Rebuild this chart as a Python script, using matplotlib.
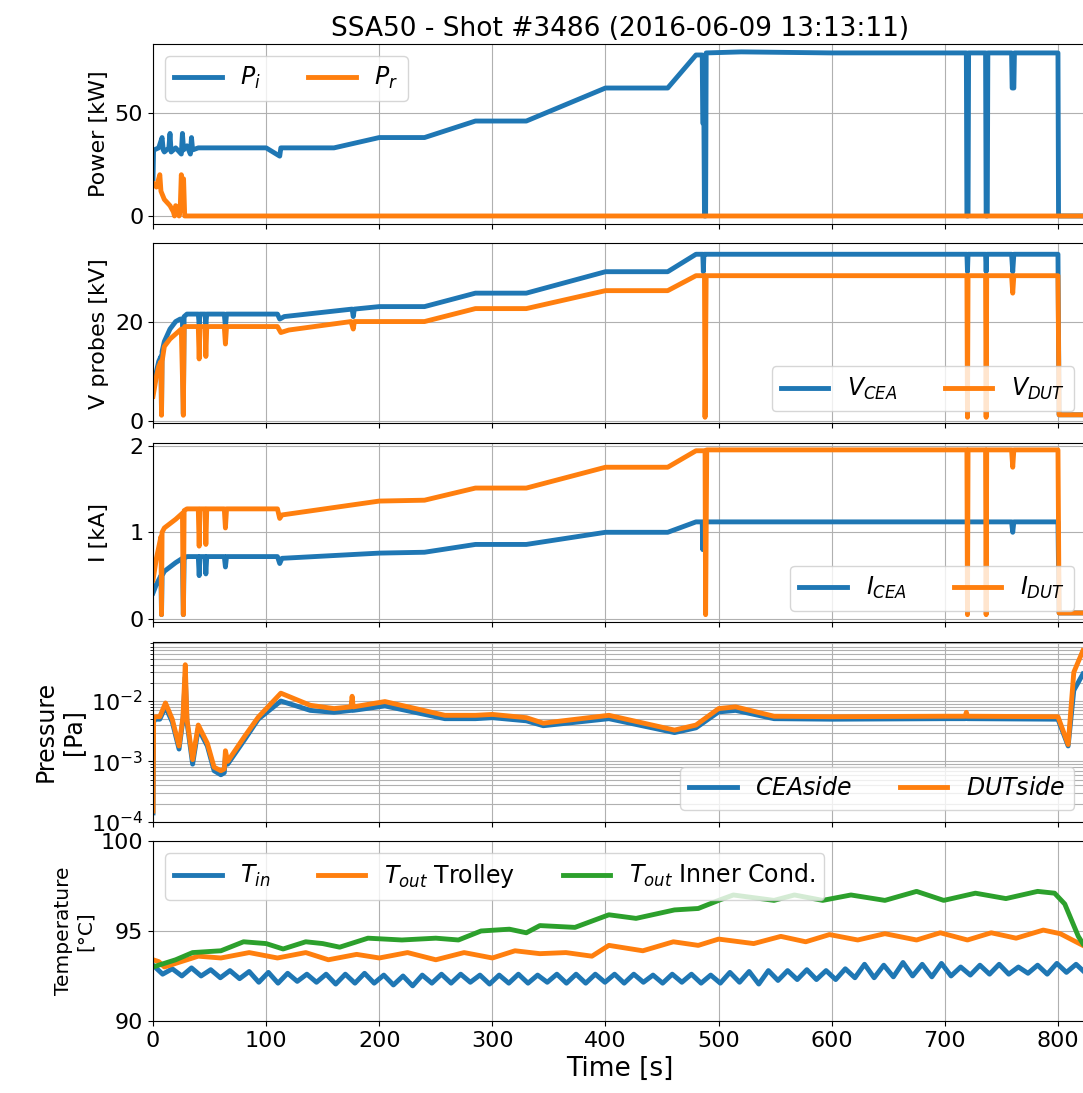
import numpy as np
import matplotlib
matplotlib.use("Agg")
import matplotlib.pyplot as plt

# --- power [kW]
p_t = [0, 0.5, 1, 5, 8, 9, 10, 14, 15, 16, 20, 25, 26, 27, 30, 33, 34, 35, 40, 60, 100,
       112, 113, 114, 160, 200, 240, 285, 330, 400, 455, 480, 485.5, 486, 487, 487.5, 488.5,
       489, 520, 600, 719, 719.5, 720.5, 721, 736, 736.5, 737.5, 738, 759, 759.5, 761,
       761.5, 800, 800.5, 825]
p_inc = [18, 32, 32, 33, 38, 32, 31, 33, 40, 31, 33, 30, 40, 32, 34, 30, 38, 32, 33, 33, 33,
         29, 33, 33, 33, 38, 38, 46, 46, 62, 62, 78, 78, 45, 45, 0, 0,
         79, 79.5, 79, 79, 0, 0, 79, 79, 0, 0, 79, 79, 62, 62,
         79, 79, 0, 0]
pr_t = [0, 3, 6, 7, 10, 15, 18, 19, 20, 22, 23, 24, 25, 25.5, 27, 28, 29, 825]
p_ref = [16, 14, 20, 12, 8, 5, 2, 0, 5, 4, 0, 3, 20, 18, 18, 0, 0, 0]

# --- probe voltages [kV]
v_t = [0, 3, 5, 7, 7.5, 8, 10, 15, 20, 24, 26, 26.8, 27.5, 30, 40, 40.8, 41.5, 46, 46.7,
       47.5, 63, 64, 65, 110, 112, 116, 176, 177, 178, 200, 240, 285, 330, 400, 455, 480,
       486, 486.5, 487, 489, 719.5, 720, 720.5, 736, 736.5, 737, 759, 760, 761, 800, 801, 825]
v_cea = [7, 10, 12, 13, 1.5, 14, 16, 18.5, 20, 20.5, 20.5, 1.5, 21, 21.5, 21.5, 19.5, 21.5,
         21.5, 19.5, 21.5, 21.5, 19, 21.5, 21.5, 20.5, 21, 22.5, 21, 22.5, 23, 23, 25.7,
         25.7, 30, 30, 33.5, 33.5, 30, 33.5, 33.5, 33.5, 30, 33.5, 33.5, 30, 33.5, 33.5, 30,
         33.5, 33.5, 1.3, 1.3]
vd_t = [0, 3, 5, 7, 7.5, 8, 10, 15, 20, 25, 26.8, 27.5, 28, 30, 40, 40.8, 41.5, 46, 46.7,
        47.5, 63, 64, 65, 110, 113, 120, 175, 177, 178, 200, 240, 285, 330, 400, 455, 480,
        487.5, 488, 489, 719.5, 720, 720.5, 736, 736.5, 737, 759, 760, 761, 800, 801, 825]
v_dut = [5, 9, 11, 12, 1.2, 12, 15, 16.5, 17.5, 18.5, 1.2, 18.5, 19, 19, 19, 12.5, 19, 19,
         13, 19, 19, 15.5, 19, 19, 17.8, 18.3, 20, 18.5, 20, 20, 20, 22.6, 22.6, 26.2, 26.2,
         29.2, 29.2, 0.8, 29.2, 29.2, 0.8, 29.2, 29.2, 0.8, 29.2, 29.2, 25.7, 29.2, 29.2,
         1.3, 1.3]

# --- currents [kA]
i_t = [0, 3, 7, 7.5, 8, 10, 15, 20, 26, 26.8, 27.5, 30, 40, 40.8, 41.5, 46, 46.7, 47.5, 63,
       64, 65, 110, 112, 114, 200, 240, 285, 330, 400, 455, 480, 485.5, 486, 487, 759, 760,
       761, 800, 801, 825]
i_cea = [0.3, 0.4, 0.5, 0.05, 0.5, 0.55, 0.6, 0.65, 0.7, 0.05, 0.7, 0.72, 0.72, 0.5, 0.72,
         0.72, 0.52, 0.72, 0.72, 0.6, 0.72, 0.72, 0.64, 0.7, 0.76, 0.77, 0.86, 0.86, 1.0, 1.0,
         1.12, 1.12, 0.8, 1.12, 1.12, 1.0, 1.12, 1.12, 0.07, 0.07]
id_t = [0, 3, 7, 7.5, 8, 10, 15, 20, 26, 26.8, 27.5, 30, 40, 40.8, 41.5, 46, 46.7, 47.5, 63,
        64, 65, 110, 112, 114, 200, 240, 285, 330, 400, 455, 480, 488, 488.5, 489.5, 719.5,
        720, 720.5, 736, 736.5, 737, 759, 760, 761, 800, 801, 825]
i_dut = [0.45, 0.7, 0.95, 0.05, 1.0, 1.05, 1.1, 1.15, 1.22, 0.05, 1.25, 1.27, 1.27, 0.84,
         1.27, 1.27, 0.86, 1.27, 1.27, 1.05, 1.27, 1.27, 1.16, 1.2, 1.36, 1.37, 1.51, 1.51,
         1.75, 1.75, 1.94, 1.94, 0.05, 1.95, 1.95, 0.05, 1.95, 1.95, 0.05, 1.95, 1.95, 1.75,
         1.95, 1.95, 0.07, 0.07]

# --- pressure [Pa]
pr_time = [0, 0.5, 2, 6, 11, 17, 23, 26.5, 28.5, 30, 35, 40, 48, 54, 60, 63, 64, 66, 81, 93,
           113, 139, 160, 175, 176, 177, 205, 258, 285, 300, 330, 345, 403, 461, 480, 500,
           515, 549, 600, 700, 718, 719, 720, 800, 809, 814, 822]
pres_dut = [1.5e-4, 5e-3, 5.5e-3, 5.5e-3, 9.3e-3, 5e-3, 1.8e-3, 5.5e-3, 4e-2, 5e-3, 1.07e-3,
            4e-3, 2e-3, 8e-4, 7e-4, 7.5e-4, 1.5e-3, 1e-3, 2.6e-3, 5.4e-3, 1.35e-2, 8.5e-3,
            7.5e-3, 8e-3, 1.2e-2, 8e-3, 9.8e-3, 5.8e-3, 5.8e-3, 6e-3, 5.3e-3, 4.3e-3, 5.8e-3,
            3.3e-3, 4e-3, 7.5e-3, 8e-3, 5.6e-3, 5.5e-3, 5.6e-3, 5.6e-3, 6.5e-3, 5.6e-3,
            5.5e-3, 1.9e-3, 3e-2, 6.8e-2]
pres_cea = [1.4e-4, 4.5e-3, 5e-3, 5e-3, 8e-3, 4.5e-3, 1.6e-3, 5e-3, 2.5e-2, 4.5e-3, 9e-4,
            3.5e-3, 1.8e-3, 7e-4, 6e-4, 6.5e-4, 1.2e-3, 9e-4, 2.3e-3, 5e-3, 1e-2, 7e-3,
            6.5e-3, 7e-3, 1e-2, 7e-3, 8.3e-3, 5.1e-3, 5.1e-3, 5.3e-3, 4.7e-3, 3.9e-3, 5.1e-3,
            3e-3, 3.6e-3, 6.6e-3, 7e-3, 5.1e-3, 5e-3, 5.1e-3, 5.1e-3, 6e-3, 5.1e-3,
            5e-3, 1.8e-3, 1.5e-2, 2.8e-2]

# --- temperatures [degC], inlet read every 8.5 s (peaks / troughs)
tin_t = np.arange(0, 817, 8.5).tolist() + [822]
t_in = [93.1, 92.6, 92.9, 92.5, 92.95, 92.5, 92.85, 92.4, 92.8, 92.35, 92.75, 92.15,
        92.7, 92.1, 92.65, 92.2, 92.6, 92.15, 92.6, 92.05, 92.6, 92.1, 92.65, 92.1,
        92.55, 92.0, 92.5, 91.95, 92.55, 92.1, 92.6, 92.1, 92.6, 92.15, 92.55, 92.05,
        92.55, 92.1, 92.6, 92.1, 92.55, 92.15, 92.6, 92.1, 92.6, 92.1, 92.6, 92.15,
        92.6, 92.1, 92.6, 92.15, 92.55, 92.1, 92.6, 92.15, 92.6, 92.1, 92.55, 92.1,
        92.7, 92.15, 92.75, 92.05, 92.8, 92.25, 92.8, 92.3, 92.85, 92.3, 92.8, 92.3,
        92.9, 92.4, 93.15, 92.4, 93.1, 92.45, 93.25, 92.5, 93.15, 92.45, 93.2, 92.5,
        93.0, 92.55, 93.1, 92.6, 93.15, 92.6, 93.0, 92.65, 93.1, 92.6, 93.2, 92.7,
        93.15, 92.8]
tt_t = [0, 5, 10, 20, 40, 60, 85, 110, 135, 155, 180, 200, 225, 250, 275, 300, 320, 342,
        365, 388, 403, 433, 460, 482, 500, 531, 555, 577, 598, 623, 647, 675, 696, 720, 741,
        763, 787, 802, 822]
t_trolley = [93.4, 93.3, 93.0, 93.2, 93.6, 93.5, 93.8, 93.5, 93.8, 93.4, 93.7, 93.5, 93.8,
             93.4, 93.8, 93.5, 93.9, 93.74, 93.8, 93.6, 94.2, 93.9, 94.4, 94.2, 94.55, 94.3,
             94.7, 94.4, 94.8, 94.5, 94.85, 94.5, 94.9, 94.5, 94.9, 94.6, 95.05, 94.85, 94.2]
tc_t = [0, 20, 35, 60, 80, 100, 115, 135, 150, 165, 190, 220, 250, 270, 290, 315, 330, 342,
        373, 403, 427, 461, 482, 500, 513, 549, 567, 592, 617, 647, 675, 699, 727, 754, 782,
        797, 806, 818, 822]
t_inner = [93.0, 93.4, 93.8, 93.9, 94.4, 94.3, 94.0, 94.4, 94.3, 94.1, 94.6, 94.5, 94.6,
           94.5, 95.0, 95.1, 94.9, 95.3, 95.2, 95.9, 95.7, 96.17, 96.25, 96.7, 97.0, 96.7,
           97.0, 96.7, 97.0, 96.7, 97.2, 96.7, 97.1, 96.8, 97.2, 97.1, 96.5, 94.7, 94.3]

plt.rcParams['font.size'] = 16
plt.rcParams['xtick.labelsize'] = 16
plt.rcParams['ytick.labelsize'] = 16
plt.rcParams['legend.fontsize'] = 17

fig, axs = plt.subplots(5, 1, sharex=True, figsize=(10.83, 10.93), dpi=100)
fig.subplots_adjust(left=0.1413, right=1.003, top=0.9597, bottom=0.0659, hspace=0.107)
lw = 3.5

ax = axs[0]
ax.plot(p_t, p_inc, lw=lw, label='$P_i$')
ax.plot(pr_t, p_ref, lw=lw, label='$P_r$')
ax.set_ylim(-3.9, 83.3)
ax.set_yticks([0, 50])
ax.set_ylabel('Power [kW]')
ax.legend(loc='upper left', ncol=2)
ax.set_title('SSA50 - Shot #3486 (2016-06-09 13:13:11)', fontsize=19)

ax = axs[1]
ax.plot(v_t, v_cea, lw=lw, label='$V_{CEA}$')
ax.plot(vd_t, v_dut, lw=lw, label='$V_{DUT}$')
ax.set_ylim(-0.4, 35.7)
ax.set_yticks([0, 20])
ax.set_ylabel('V probes [kV]')
ax.legend(loc='lower right', ncol=2)

ax = axs[2]
ax.plot(i_t, i_cea, lw=lw, label='$I_{CEA}$')
ax.plot(id_t, i_dut, lw=lw, label='$I_{DUT}$')
ax.set_ylim(-0.04, 2.035)
ax.set_yticks([0, 1, 2])
ax.set_ylabel('I [kA]')
ax.legend(loc='lower right', ncol=2)

ax = axs[3]
ax.plot(pr_time, pres_cea, lw=lw, label='$CEAside$')
ax.plot(pr_time, pres_dut, lw=lw, label='$DUTside$')
ax.set_yscale('log')
ax.set_ylim(1e-4, 0.096)
ax.set_ylabel('Pressure\n[Pa]', fontsize=17)
ax.legend(loc='lower right', ncol=2)

ax = axs[4]
ax.plot(tin_t, t_in, lw=lw, label='$T_{in}$')
ax.plot(tt_t, t_trolley, lw=lw, label='$T_{out}$ Trolley')
ax.plot(tc_t, t_inner, lw=lw, label='$T_{out}$ Inner Cond.')
ax.set_ylim(90, 100)
ax.set_yticks([90, 95, 100])
ax.set_ylabel('Temperature\n[°C]', fontsize=14.5)
ax.legend(loc='upper left', ncol=3)
ax.set_xlabel('Time [s]', fontsize=19)

for ax in axs:
    ax.grid(True)
axs[3].grid(True, which='both')
axs[-1].set_xlim(0, 825)

fig.align_ylabels(axs[:3])
fig.savefig('out.png', dpi=100)
